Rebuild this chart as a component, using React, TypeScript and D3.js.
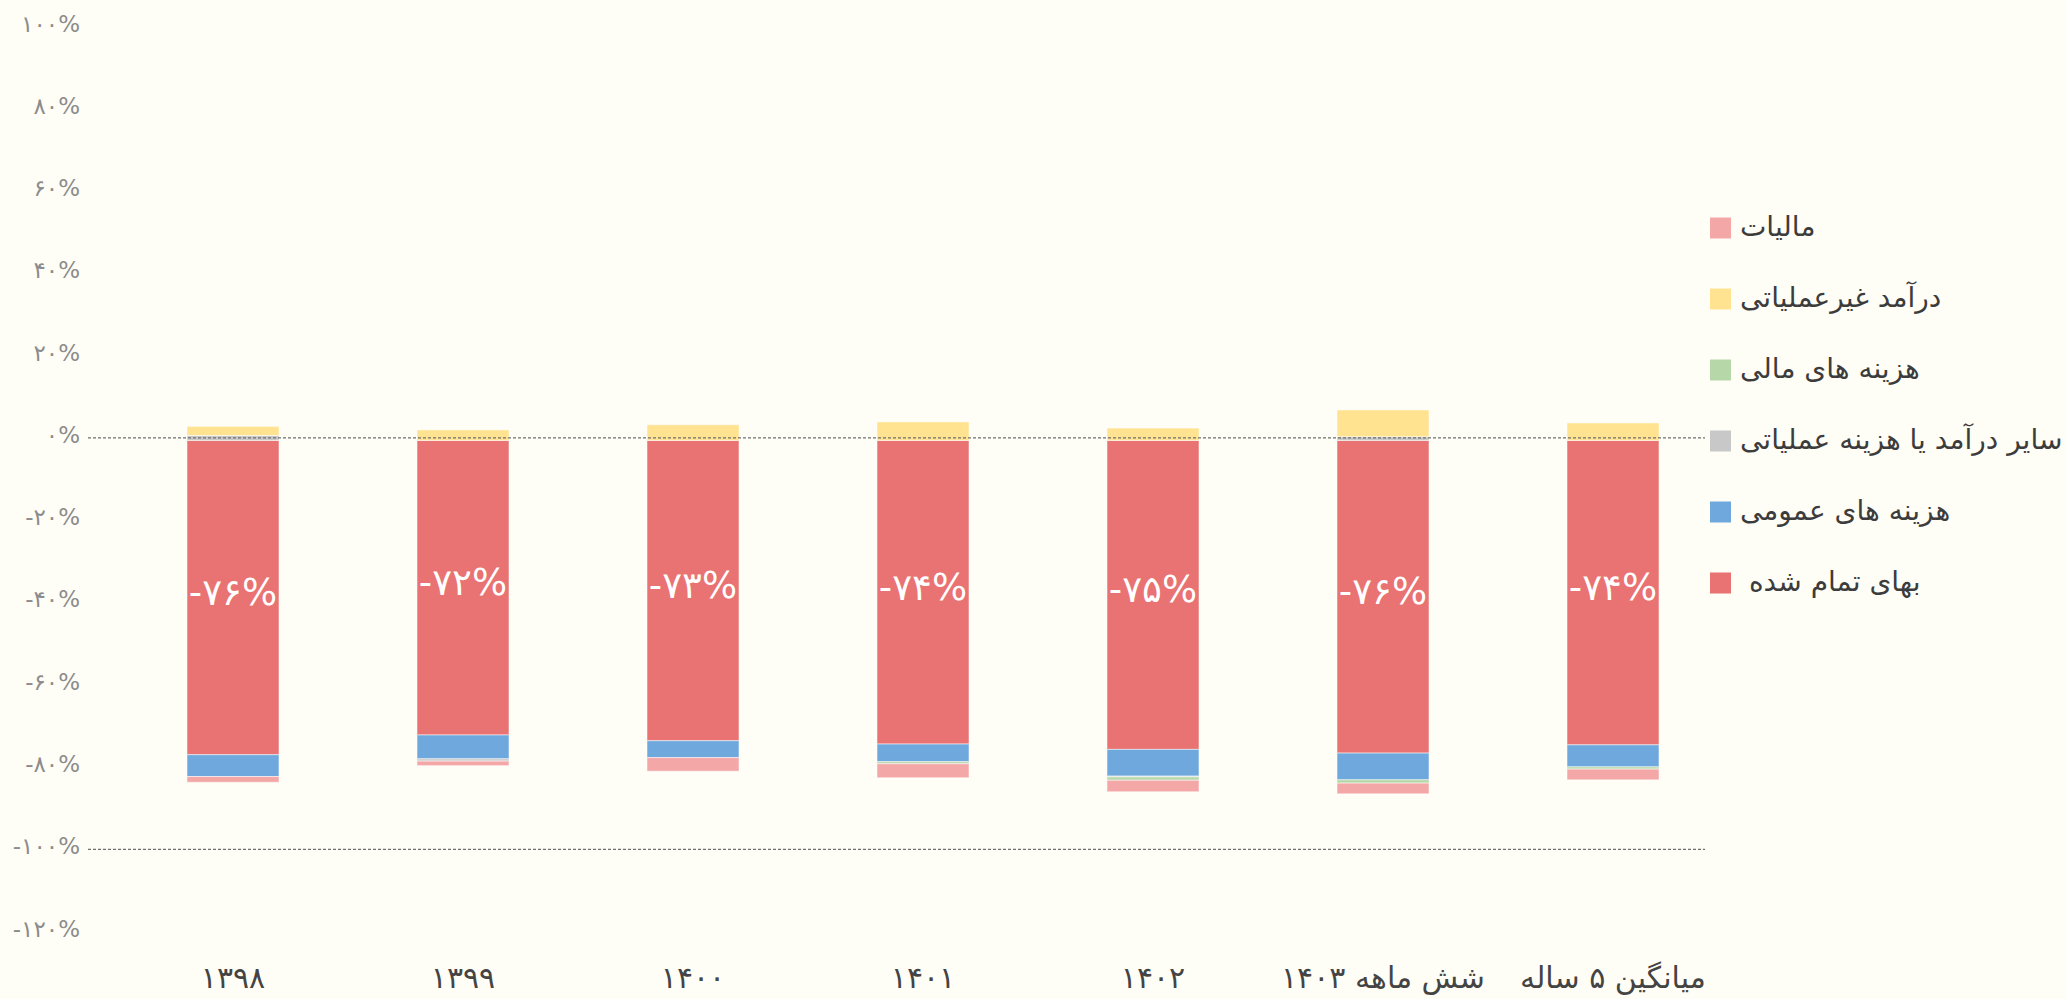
import React from "react";
import * as d3 from "d3";

const categories = ["۱۳۹۸", "۱۳۹۹", "۱۴۰۰", "۱۴۰۱", "۱۴۰۲", "شش ماهه ۱۴۰۳", "میانگین ۵ ساله"];
const costOfSales = [-76.4, -71.6, -73.0, -73.8, -75.1, -76.0, -74.0];
const generalExpenses = [-5.3, -5.8, -4.1, -4.3, -6.5, -6.5, -5.35];
const otherOperating = [1.2, -0.55, 0, 0, -0.2, 0.9, 0];
const financialExpenses = [0, 0, 0, -0.5, -0.8, -0.8, -0.55];
const nonOperatingIncome = [2.2, 2.55, 3.8, 4.5, 3.0, 6.5, 4.25];
const taxes = [-1.4, -1.1, -3.3, -3.4, -2.8, -2.6, -2.6];
const yTicks = [100, 80, 60, 40, 20, 0, -20, -40, -60, -80, -100, -120];
const dashedLines = [0, -100];

const seriesDefs = [
  { key: "cost", label: "بهای تمام شده\u00A0", color: "#E97272", values: costOfSales },
  { key: "general", label: "هزینه های عمومی", color: "#6FA8DC", values: generalExpenses },
  { key: "other", label: "سایر درآمد یا هزینه عملیاتی", color: "#C8C8C8", values: otherOperating },
  { key: "financial", label: "هزینه های مالی", color: "#B6D7A8", values: financialExpenses },
  { key: "nonop", label: "درآمد غیرعملیاتی", color: "#FFE391", values: nonOperatingIncome },
  { key: "tax", label: "مالیات", color: "#F4A7A7", values: taxes },
];

const faDigits = (s: string) => s.replace(/[0-9]/g, (c) => "۰۱۲۳۴۵۶۷۸۹"[+c]);

const W = 2066;
const H = 999;
const FONT = "'DejaVu Sans', sans-serif";

export default function App() {
  const x = d3.scaleBand<string>().domain(categories).range([118, 1728]).paddingInner(0.6).paddingOuter(0.3);
  const y = d3.scaleLinear().domain([-120, 100]).range([934.1, 29.0]);

  const table = categories.map((c, i) => {
    const row: any = { cat: c };
    seriesDefs.forEach((s) => (row[s.key] = s.values[i]));
    return row;
  });
  const stack = d3.stack<any>().keys(seriesDefs.map((s) => s.key)).offset(d3.stackOffsetDiverging);
  const layers = stack(table);

  const legendOrder = [...seriesDefs].reverse();

  return (
    <svg width={W} height={H} style={{ position: "absolute", left: 0, top: 0, background: "#FFFEF6" }} fontFamily={FONT}>
      <rect x={0} y={0} width={W} height={H} fill="#FFFEF6" />
      {yTicks.map((t) => (
        <text key={t} x={80} y={y(t) - 4} textAnchor="end" dominantBaseline="middle" fontSize={23} fill="#8C8C8C" direction="ltr">
          {faDigits(`${t}%`)}
        </text>
      ))}
      {layers.map((layer, li) => (
        <g key={layer.key} fill={seriesDefs[li].color}>
          {layer.map((d, i) => {
            const y0 = y(Math.max(d[0], d[1]));
            const y1 = y(Math.min(d[0], d[1]));
            if (Math.abs(y1 - y0) < 0.01) return null;
            return (
              <rect
                key={i}
                x={x(categories[i])}
                y={y0}
                width={x.bandwidth()}
                height={y1 - y0}
                stroke="#ffffff"
                strokeOpacity={0.5}
                strokeWidth={1}
              />
            );
          })}
        </g>
      ))}
      {dashedLines.map((v) => (
        <line key={v} x1={88} x2={1705} y1={y(v) - 2.5} y2={y(v) - 2.5} stroke="#6E6E6E" strokeWidth={1.3} strokeDasharray="3,2" />
      ))}
      {categories.map((c, i) => {
        const v = costOfSales[i];
        const cy = (y(0) + y(v)) / 2 - 3;
        return (
          <text key={c} x={x(c)! + x.bandwidth() / 2} y={cy} textAnchor="middle" dominantBaseline="middle" fontSize={37} fill="#ffffff" direction="ltr">
            {faDigits(`${Math.round(v)}%`)}
          </text>
        );
      })}
      {categories.map((c) => (
        <text key={c} x={x(c)! + x.bandwidth() / 2} y={979} textAnchor="middle" dominantBaseline="middle" fontSize={30} fill="#444444">
          {c}
        </text>
      ))}
      {legendOrder.map((s, i) => {
        const cy = 228 + i * 71;
        return (
          <g key={s.key}>
            <rect x={1710} y={cy - 10.5} width={21} height={21} fill={s.color} />
            <text x={1740} y={cy} direction="rtl" textAnchor="end" dominantBaseline="middle" fontSize={28} fill="#3C3C3C">
              {s.label}
            </text>
          </g>
        );
      })}
    </svg>
  );
}
